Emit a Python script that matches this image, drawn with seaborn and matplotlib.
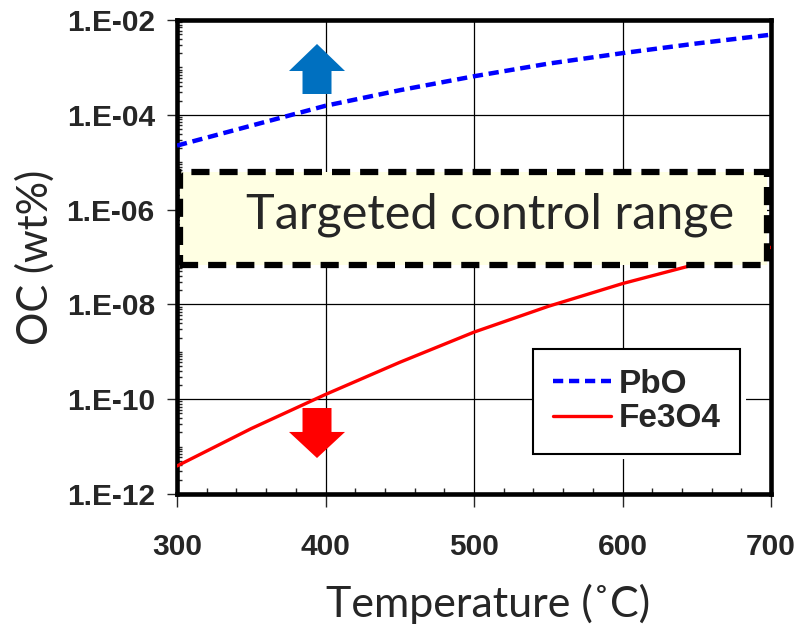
import numpy as np
import pandas as pd
import matplotlib
matplotlib.use("Agg")
import matplotlib.pyplot as plt
import seaborn as sns
from matplotlib.ticker import FixedLocator, MultipleLocator, LogLocator, FuncFormatter, NullFormatter
from matplotlib.patches import Rectangle, FancyArrow

# ---------------- data ----------------
temperature = [300, 350, 400, 450, 500, 550, 600, 650, 700]
pbo = [2.24e-5, 5.9e-5, 1.55e-4, 3.3e-4, 6.5e-4, 1.2e-3, 2.0e-3, 3.2e-3, 4.9e-3]
fe3o4 = [3.9e-12, 2.4e-11, 1.26e-10, 6.0e-10, 2.6e-9, 9.1e-9, 2.75e-8, 7.1e-8, 1.6e-7]
series_names = ["PbO", "Fe3O4"]
x_ticks = [300, 400, 500, 600, 700]
y_ticks = [1e-12, 1e-10, 1e-8, 1e-6, 1e-4, 1e-2]
band_temp = [302, 697]
band_oc = [6.8e-8, 6.2e-6]
band_label = "Targeted control range"
x_label = "Temperature (\u02daC)"
y_label = "OC (wt%)"

df = pd.DataFrame({
    "T": temperature * 2,
    "OC": pbo + fe3o4,
    "series": [series_names[0]] * len(pbo) + [series_names[1]] * len(fe3o4),
})

sns.set_style("white")
plt.rcParams["font.family"] = ["Lato", "DejaVu Sans"]

fig = plt.figure(figsize=(7.99, 6.29), dpi=100)
ax = fig.add_axes([177 / 799, 1 - 494 / 629, 594 / 799, 474 / 629])

sns.lineplot(data=df[df.series == "PbO"], x="T", y="OC", ax=ax, color="#0000FF",
             linewidth=3.2, label="PbO", zorder=3)
sns.lineplot(data=df[df.series == "Fe3O4"], x="T", y="OC", ax=ax, color="#FF0000",
             linewidth=2.4, label="Fe3O4", zorder=3)
pbo_line = ax.lines[0]
pbo_line.set_dashes((2.3, 1.3))
pbo_line.set_dash_capstyle("butt")

ax.set_yscale("log")
ax.set_xlim(300, 700)
ax.set_ylim(1e-12, 1e-2)

ax.xaxis.set_major_locator(FixedLocator(x_ticks))
ax.xaxis.set_minor_locator(MultipleLocator(20))
ax.yaxis.set_major_locator(FixedLocator(y_ticks))
ax.yaxis.set_minor_locator(LogLocator(base=10, subs=np.arange(1, 10), numticks=100))
ax.yaxis.set_minor_formatter(NullFormatter())
ax.yaxis.set_major_formatter(FuncFormatter(lambda v, p: "1.E-%02d" % abs(int(round(np.log10(v))))))

ax.grid(True, which="major", color="black", linewidth=0.9, zorder=1)
ax.set_axisbelow(True)

for s in ax.spines.values():
    s.set_visible(True)
    s.set_color("black")
    s.set_linewidth(3.3)

tick_font = dict(family="Liberation Sans", weight="bold", size=21.5)
ax.tick_params(axis="y", which="major", direction="out", length=7, width=1.0, pad=9, left=True)
ax.tick_params(axis="y", which="minor", direction="in", length=3.5, width=1.0, left=True)
ax.tick_params(axis="x", which="major", direction="out", length=9, width=1.0, pad=19, bottom=True)
ax.tick_params(axis="x", which="minor", direction="in", length=4, width=1.0, bottom=True)
for lab in ax.get_xticklabels() + ax.get_yticklabels():
    lab.set_fontproperties(matplotlib.font_manager.FontProperties(**tick_font))

ax.set_xlabel(x_label, fontsize=31, family=["Lato", "DejaVu Sans"], va="center")
ax.xaxis.set_label_coords(0.524, -0.232)
ax.set_ylabel(y_label, fontsize=30, family=["Lato", "DejaVu Sans"], va="center")
ax.yaxis.set_label_coords(-0.239, 0.5)

# targeted control range band
band = Rectangle((band_temp[0], band_oc[0]), band_temp[1] - band_temp[0], band_oc[1] - band_oc[0],
                 facecolor="#FFFFE3", edgecolor="black", linewidth=4.5, linestyle=(0, (2.9, 1.6)),
                 zorder=4)
ax.add_patch(band)
ax.text(0.527, 0.589, band_label, transform=ax.transAxes, ha="center", va="center",
        fontsize=35, family=["Lato", "DejaVu Sans"], zorder=5)

# arrows
ax.add_patch(FancyArrow(0.2357, 0.8439, 0, 0.1055, width=0.0488, head_width=0.0943,
                        head_length=0.057, length_includes_head=True, transform=ax.transAxes,
                        facecolor="#0070C0", edgecolor="none", zorder=5))
ax.add_patch(FancyArrow(0.2357, 0.1814, 0, -0.1055, width=0.0488, head_width=0.0943,
                        head_length=0.055, length_includes_head=True, transform=ax.transAxes,
                        facecolor="#FF0000", edgecolor="none", zorder=5))

leg = ax.legend(loc="upper left", bbox_to_anchor=(0.599, 0.306), borderaxespad=0,
                prop=dict(family="Liberation Sans", weight="bold", size=24),
                handlelength=1.75, handletextpad=0.22, labelspacing=0.1,
                fancybox=False, edgecolor="black", framealpha=1, facecolor="white",
                shadow={"ox": 3, "oy": -3, "shade": 0, "alpha": 1}, borderpad=0.6)
leg.get_frame().set_linewidth(1.5)
leg.set_zorder(6)

fig.savefig("out.png", dpi=100)
